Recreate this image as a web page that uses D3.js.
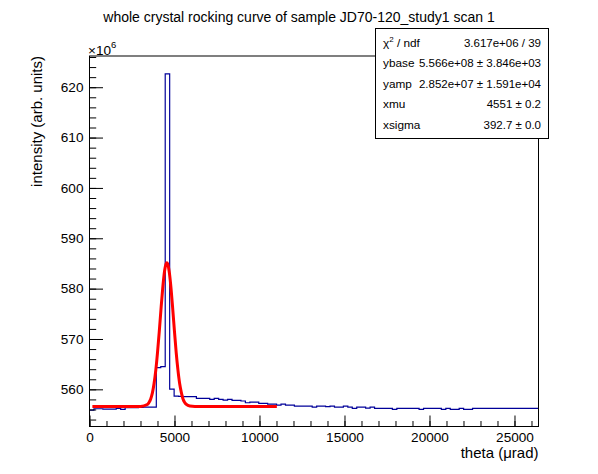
<!DOCTYPE html>
<html>
<head>
<meta charset="utf-8">
<script src="https://cdn.jsdelivr.net/npm/d3@7"></script>
<style>
  body { margin: 0; background: #fff; }
  text { font-family: "Liberation Sans", Arial, sans-serif; }
</style>
</head>
<body>
<svg id="chart" width="598" height="474"></svg>
<script>
// rocking curve histogram, one value per bin (units of 10^6), bins start at 0
const binWidth = 262;
const intensity = [
  555.89, 556.15, 556.15, 556.09, 556.09, 556.09, 556.20, 556.02, 556.35, 556.35,
  556.35, 556.40, 556.48, 556.48, 556.48, 564.30, 564.50, 622.65, 560.06, 558.67,
  558.60, 558.54, 558.54, 558.54, 558.20, 558.20, 558.20, 558.00, 558.20, 558.00,
  557.87, 558.00, 557.80, 557.80, 557.68, 557.34, 557.48, 557.48, 557.20, 557.20,
  557.08, 557.08, 556.88, 557.08, 556.88, 556.88, 556.68, 556.68, 556.68, 556.68,
  556.48, 556.68, 556.68, 556.55, 556.68, 556.48, 556.48, 556.68, 556.48, 556.22,
  556.48, 556.48, 556.28, 556.48, 556.22, 556.22, 556.22, 556.22, 556.02, 556.22,
  556.22, 556.22, 556.22, 556.22, 556.02, 556.22, 556.22, 556.22, 556.22, 556.02,
  556.22, 556.02, 556.02, 556.22, 556.02, 556.02, 556.22, 556.22, 556.22, 556.22,
  556.22, 556.22, 556.22, 556.22, 556.22, 556.22, 556.22, 556.22, 556.22, 556.22,
  556.22
];

// gaussian fit curve
const fitTheta = [170, 3000, 3400, 3500, 3600, 3700, 3800, 3900, 4000, 4100, 4200, 4300, 4400, 4500,
  4551, 4600, 4700, 4800, 4900, 5000, 5100, 5200, 5300, 5400, 5500, 5600, 5700, 5900, 6200, 11020];
const fitIntensity = [556.6, 556.61, 556.99, 557.4, 558.1, 559.3, 561.2, 563.8, 567.3, 571.3, 575.7, 579.8, 583.1, 584.88,
  585.12, 584.9, 583.1, 579.9, 575.8, 571.4, 567.3, 563.9, 561.2, 559.4, 558.1, 557.4, 557.0, 556.68, 556.6, 556.6];

const xTickValues = [0, 5000, 10000, 15000, 20000, 25000];
const yTickValues = [560, 570, 580, 590, 600, 610, 620];

const statNames = ["χ2 / ndf", "ybase", "yamp", "xmu", "xsigma"];
const statValues = ["3.617e+06 / 39", "5.566e+08 ± 3.846e+03", "2.852e+07 ± 1.591e+04", "4551 ± 0.2", "392.7 ± 0.0"];

const svg = d3.select("#chart");
const frame = {left: 89.5, right: 538.5, top: 56, bottom: 426.5};

const x = d3.scaleLinear().domain([0, 26412]).range([frame.left, frame.right]);
const y = d3.scaleLinear().domain([552.62, 626.2]).range([frame.bottom, frame.top]);

svg.append("clipPath").attr("id", "frameclip")
  .append("rect")
  .attr("x", frame.left).attr("y", frame.top)
  .attr("width", frame.right - frame.left).attr("height", frame.bottom - frame.top);

// title
svg.append("text")
  .attr("x", 299).attr("y", 22)
  .attr("text-anchor", "middle")
  .style("font-size", "14px")
  .text("whole crystal rocking curve of sample JD70-120_study1 scan 1");

// histogram as a step line
const steps = intensity.map((v, i) => ({t: i * binWidth, v: v}));
steps.push({t: intensity.length * binWidth, v: intensity[intensity.length - 1]});
const stepLine = d3.line()
  .x(d => x(d.t))
  .y(d => y(d.v))
  .curve(d3.curveStepAfter);
svg.append("path")
  .attr("clip-path", "url(#frameclip)")
  .attr("d", stepLine(steps))
  .attr("fill", "none")
  .attr("stroke", "#000099")
  .attr("stroke-width", 1.2);

// fit curve
const fitLine = d3.line()
  .x((d, i) => x(fitTheta[i]))
  .y(d => y(d))
  .curve(d3.curveMonotoneX);
svg.append("path")
  .attr("d", fitLine(fitIntensity))
  .attr("fill", "none")
  .attr("stroke", "#ff0000")
  .attr("stroke-width", 3);

// axes, ticks point into the frame like ROOT
const xMajor = d3.axisBottom(x).tickValues(xTickValues).tickSize(-11).tickPadding(6).tickFormat(d3.format("d"));
const xMinor = d3.axisBottom(x).tickValues(d3.range(0, 26001, 1000)).tickSize(-5.5).tickFormat("");
const yMajor = d3.axisLeft(y).tickValues(yTickValues).tickSize(-13.5).tickPadding(6).tickFormat(d3.format("d"));
const yMinor = d3.axisLeft(y).tickValues(d3.range(554, 627, 2)).tickSize(-6.7).tickFormat("");

[xMinor, xMajor].forEach(ax => {
  const g = svg.append("g").attr("transform", "translate(0," + frame.bottom + ")").call(ax);
  g.select(".domain").remove();
});
[yMinor, yMajor].forEach(ax => {
  const g = svg.append("g").attr("transform", "translate(" + frame.left + ",0)").call(ax);
  g.select(".domain").remove();
});
svg.selectAll(".tick line").attr("stroke", "#000");
svg.selectAll(".tick text")
  .attr("fill", "#000")
  .style("font-size", "13.6px")
  .style("font-family", "'Liberation Sans', Arial, sans-serif");

// frame
svg.append("rect")
  .attr("x", frame.left).attr("y", frame.top)
  .attr("width", frame.right - frame.left).attr("height", frame.bottom - frame.top)
  .attr("fill", "none").attr("stroke", "#000").attr("stroke-width", 1);

// exponent marker
const expo = svg.append("text")
  .attr("x", 88).attr("y", 55)
  .style("font-size", "13.6px");
expo.append("tspan").text("×10");
expo.append("tspan").attr("dy", -7).style("font-size", "9.5px").text("6");

// axis titles
svg.append("text")
  .attr("x", frame.right).attr("y", 458)
  .attr("text-anchor", "end")
  .style("font-size", "15px")
  .text("theta (μrad)");
svg.append("text")
  .attr("transform", "translate(42," + frame.top + ") rotate(-90)")
  .attr("text-anchor", "end")
  .style("font-size", "15px")
  .text("intensity (arb. units)");

// stats box
const box = {x: 375.5, y: 28.5, w: 173, h: 110};
svg.append("rect")
  .attr("x", box.x).attr("y", box.y).attr("width", box.w).attr("height", box.h)
  .attr("fill", "#fff").attr("stroke", "#000").attr("stroke-width", 1);
statNames.forEach((name, i) => {
  const yy = 47 + i * 20.4;
  const label = svg.append("text").attr("x", 383).attr("y", yy).style("font-size", "11.8px");
  if (i === 0) {
    label.append("tspan").text("χ");
    label.append("tspan").attr("dy", -5).style("font-size", "8px").text("2");
    label.append("tspan").attr("dy", 5).text(" / ndf");
  } else {
    label.text(name);
  }
  svg.append("text")
    .attr("x", 541).attr("y", yy)
    .attr("text-anchor", "end")
    .style("font-size", "11.5px")
    .text(statValues[i]);
});
</script>
</body>
</html>
